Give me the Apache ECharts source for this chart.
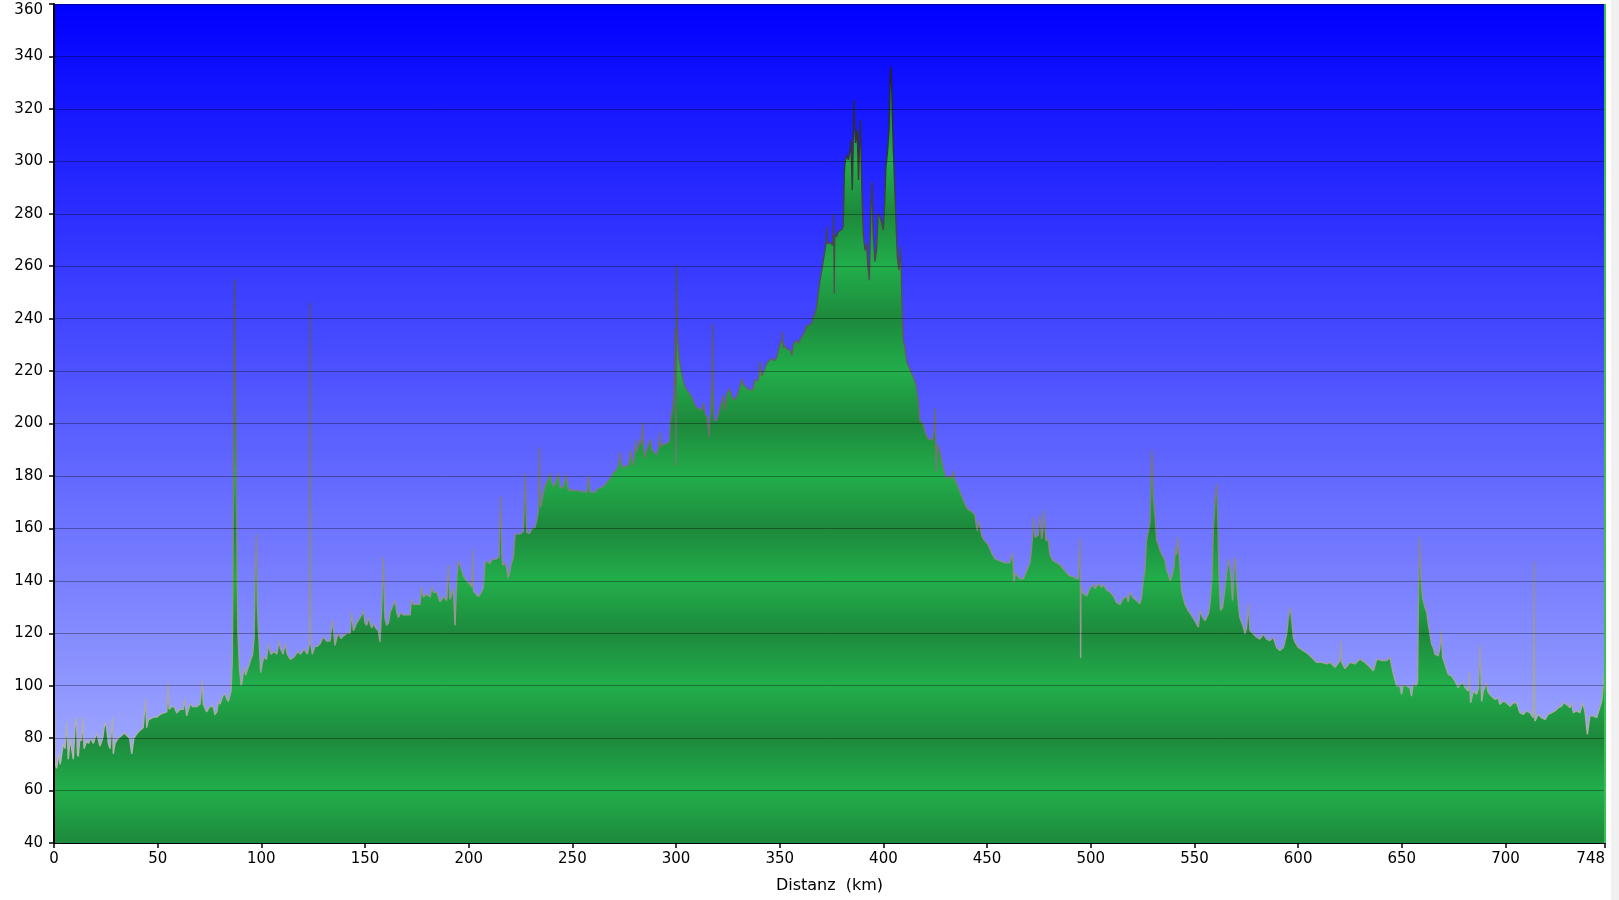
<!DOCTYPE html>
<html>
<head>
<meta charset="utf-8">
<script src="https://cdn.jsdelivr.net/npm/echarts@6/dist/echarts.min.js"></script>
<style>
html,body{margin:0;padding:0;background:#ffffff;}
#chart{width:1619px;height:900px;}
</style>
</head>
<body>
<div id="chart"></div>
<script>
// ---- Data: [distance km, elevation m] ----
const segA = [
  [0,72],[0.3,90],[0.6,70],[1.3,68.5],[2.2,74],[3,70],[3.7,70],[4.5,78],[5.3,76],[6.2,86],[6.9,72],
  [7.8,80],[8.5,76],[9.3,72],[10.1,84],[10.8,88],[11.3,74],[11.7,73],[12.5,80],[13.3,79],[14,88],
  [14.5,76],[15,76],[15.8,79],[16.6,78],[17.8,80],[19,78],[20.5,82],[22.2,77],[23.5,80],[24.5,86],
  [25.4,84],[26.2,78],[27,76],[28.2,88],[28.6,74],[29.4,78],[31,80],[32.6,81],[34,82],[35.1,81],
  [36.5,80],[37.5,74],[38.5,80],[39.1,80],[40.3,82],[41.5,83],[43,84],[44.2,95],[44.7,84],[45.5,87],
  [46.3,87.5],[48,88],[49.6,88],[51,89],[52.7,89.6],[53.5,90],[54.4,90],[55,101],[55.5,91],[56.8,92],
  [58,92],[59.2,89.6],[60.8,91],[62.4,91],[63,95],[64,88.5],[65.6,93],[67,92],[68.8,92],[70.4,93],
  [71.5,102],[72,93],[73.6,90],[75,92],[76.8,92],[77.6,89],[78.5,90],[79.3,94],[80.1,93],[81.3,96],
  [82.5,97],[83.3,95],[84.1,94],[85.4,98]
];
const segB = [
  [86.0,110],[86.4,160],[86.8,215],[87.1,255],[87.4,225],[87.7,200],[88.1,163],[88.7,120],[89.5,106],
  [90.3,100],[90.8,102],[91.6,107],[92.4,104],[93.2,106],[94.1,108],[94.9,110],[95.8,112],[96.5,118],
  [96.9,140],[97.3,150],[97.6,158],[98.1,131],[98.5,122],[98.9,117],[99.7,105],[100.5,109],[101.3,111],
  [102.5,110],[103.4,116],[104.5,112],[106.1,113],[107.5,112],[108.5,117],[109.3,114],[110.5,112],
  [111.5,116],[112.5,112],[114,110],[115.8,111],[117.5,113],[119,112],[120.6,114],[122.2,112],
  [123.2,116],[123.5,246],[123.8,116],[124.6,112],[125.8,115],[127,115],[128.3,116],[129.9,118.6]
];
const segC = [
  [131.5,117],[133.1,117],[134.3,125],[135.5,115.4],[136.3,118],[137.1,120],[138.4,118],[139.6,119],
  [141.2,120],[142.8,120],[143.5,128],[144.4,121],[146,124],[147.6,126],[148.4,127],[149.2,128.7],
  [150,124],[150.8,123],[151.6,126],[152.4,124],[153.2,122],[154,123.7],[155.2,122],[156.4,121],
  [157.2,116.7],[158,128.7],[158.8,149],[159.6,126],[160.4,123],[161.3,124],[162.1,128],[162.9,128.7],
  [164.5,132.5],[165.3,128],[166.1,126],[167.3,128],[168.5,127],[170.1,127],[171.7,127],[172.5,133],
  [173.3,131],[174.9,131],[176.5,131],[177.3,138],[178.1,133.8],[179.7,135],[181.4,133.8],[182.2,138],
  [183,135.7],[184.6,135.7],[186.2,132],[187.8,134],[189.4,132.5],[190.2,146],[191,133],[192.6,137],
  [193.4,123],[194.2,140],[195,147.7],[195.8,146],[196.6,144],[197.4,142],[199,140],[200.3,139],
  [201.5,137.6],[201.9,152],[202.3,136],[203.5,135],[204.7,134],[205.5,133.8],[206.3,136],[207.1,137.6],
  [207.9,147],[209.1,147.5],[210.3,146.5],[211.1,148],[211.9,148],[213.5,148.4],[214.6,149],[215.4,172],
  [216.0,150],[216.4,146],[217.3,147],[218.3,145],[219.1,141],[219.9,144],[220.7,147],[221.5,149],
  [222.4,157.8],[224,157.8],[225.2,158],[226.4,159],[227.2,181],[228,158.5],[229.2,158],[230.4,159.7],
  [231.2,160],[232,160.5],[232.8,163],[233.6,166.7],[234.1,190.8],[234.6,168],[235.2,170],[236,173.7],
  [236.8,176],[237.6,177.5],[238.4,178],[239.2,181],[240,178],[240.8,176],[241.6,177],[242.4,176.5],
  [243.3,181],[244.1,175.5],[245.7,176],[247,180.5],[248.1,174.3],[249.3,175],[250.5,174.3],[252,174.5],
  [253.7,174.3],[255.3,174],[256.9,173.7],[257.7,180],[258.5,174],[259.3,174.3],[260.9,173.7]
];
const segD = [
  [262,175],[265,176],[268.1,179],[269.8,181.4],[271,182],[272.2,184],[273,189],[273.5,185],[274.6,183],
  [276,184],[277,184],[278.1,190],[278.6,186],[279.4,184],[280.2,184],[280.7,194],[281,189],[281.8,191],
  [282.6,193.5],[283.3,192],[283.9,200.5],[284.4,190],[285,187],[285.8,190],[286.6,190],[287.8,194],
  [288.3,190],[289,189.6],[290.7,188],[291.5,191],[292.3,196.6],[292.7,191],[293.1,192],[294.3,192],
  [295.5,192.5],[296.8,193],[297.4,201.5],[298.4,206.2],[299,211],[299.7,236],[300.0,184],[300.1,260.4],
  [300.4,245],[300.8,233],[301.6,224],[302.7,219],[303.5,216],[304.3,214],[305.1,213],[305.9,213.4],
  [306.7,211.3],[307.5,210],[308.3,209],[309.1,207],[309.9,206.2],[311.2,205.5],[312.4,205],[313.2,208],
  [314,203.7],[315,202.5],[315.6,202.4],[315.9,195],[316.3,202],[316.7,203.7],[317.3,215],[317.5,238],
  [317.8,215],[318.3,201.2],[319.6,201.2],[320.4,203.5],[321.2,206.2],[322,208],[322.8,210.7],[323.6,205],
  [324.4,211.3],[325.7,213.2],[326.8,210.7],[327.6,209],[328.4,208.8],[329.2,210],[330,210.7],[330.8,214],
  [331.6,217],[332.4,215],[333.3,214.2],[334.1,213.5],[334.9,213],[336,212.5],[337,212.9],[338.1,216.7],
  [338.9,217],[339.7,216.4],[340.5,223.5],[341.3,218],[342.1,218.7],[342.9,221],[343.7,222.8],[344.9,224],
  [346.1,224.7],[347.7,224],[348.5,225],[349.3,225.3],[350.1,230.4]
];
const segE = [
  [351,231.7],[351.3,235],[351.7,229],[352.5,229.8],[353.3,228.5],[354.2,227.9],[355,228],[355.8,226],
  [356.6,230.4],[357.4,230],[358.2,231.7],[359,230.5],[359.8,232],[360.6,233],[361.4,234],[362.2,235.5],
  [363,237.4],[364,237.5],[364.6,238],[365.4,238.2],[366.2,240.6],[367,242],[367.8,244.5],[368.6,249.6],
  [369.4,254.5],[370.2,258],[371,262],[371.6,265],[372.3,268.7],[372.6,275],[372.9,268.7],[373.4,268.7],
  [374.2,269],[375,268.7],[375.6,268],[376.1,280],[376.3,249.6],[376.5,272],[377.4,271.2],[378.2,273.1],
  [379,273.5],[379.8,273.8],[380.6,275],[381.2,296.7],[381.7,300.5],[382.3,302.3],[383.1,300.5],
  [383.9,304.3],[384.3,308],[385,289],[385.5,310],[385.8,323.4],[386.2,312],[386.6,307],[387.4,312],
  [388,292.9],[388.8,315.8],[389.2,305],[389.6,289.5],[390.3,272.5],[391.1,266],[391.9,268.5],[392.4,261],
  [393.2,254.6],[393.8,278.9],[394.5,292.2],[395.1,272.5],[395.9,261.7],[396.7,266],[397.4,280.1],
  [398.3,278.9],[399.3,276.3],[399.9,273.8],[400.6,284],[401.2,298],[401.9,303],[402.7,312],[403.3,332.4],
  [403.6,336.2],[404.1,326],[404.8,304.3],[405.4,291.6],[406.1,276.3],[406.7,263.6],[407.5,258.5],
  [408.1,267.4],[408.6,258.5],[409.1,240.6],[409.6,231.7],[410.4,229]
];
const segF = [
  [411.2,223.8],[412,222],[412.8,220.8],[413.6,219],[414.4,217.8],[415.7,214.8],[416.8,208.8],[417.6,201.2],
  [418.4,200.5],[419.2,199.7],[420,197],[420.9,195.2],[421.7,194],[422.5,193.7],[423.7,193.7],[424.5,197],
  [424.9,205.7],[425.2,195],[425.4,181.6],[426,192],[426.6,191],[427.3,189.1],[428.1,186],[428.9,183.1],
  [430.2,179.3],[431,180],[432.1,180],[433,179],[433.7,182],[434.5,178.5],[435.3,177.5],[436.1,175.6],
  [437.7,172.5],[439,170],[440.1,168],[441.3,167],[442.6,166.5],[444.2,165],[444.8,161],[445.3,159],
  [446,163],[446.6,163.5],[447.4,157.4],[448.2,156],[449,155.2],[450.6,153.7],[452.2,150.6],[453.8,148.4],
  [455,148],[456.2,147.6],[457.4,147.2],[458.6,146.9],[460,146.9],[461,146.9],[462.3,150.6],[463,139.4],
  [463.6,143],[464.3,142.3],[465.9,140.8],[467.5,140.8],[469.1,143.8],[470.7,146.9],[471.4,152],[472,157.4],
  [472.4,164],[473.1,156.6],[474.7,157.4],[475.5,165],[476.3,156],[477.1,160],[477.4,167.2],[478.4,155.2],
  [479.5,156],[480.3,150],[481.2,148.5],[482,147.6],[483.6,146.9],[485.2,146.1],[486.4,145],[487.6,143.8],
  [489.2,142.3],[490.4,141.8],[491.6,141.5],[492.8,141],[494,140.8],[494.6,140.5],[494.8,155.9],[495,140],
  [495.1,110.6],[495.3,138],[496.1,135.5],[497,134.8],[498,134.2],[499.6,137.2],[501.2,138.6],[502.1,137],
  [502.9,138],[503.7,139],[504.5,139.4],[505.3,137.5],[506.1,138.6],[507.7,136.4],[509.3,135.7],
  [510.9,134.2],[512.5,131.8],[514.1,131],[515.7,133.4],[517.3,134.1],[518.1,132],[518.9,135.7],[520.5,133.5]
];
const segG = [
  [521.3,134],[522.1,132.5],[522.9,133],[523.7,131.2],[524.5,133.8],[525.3,140],[526.1,144],[526.9,155.4],
  [527.7,155.4],[528.5,161.8],[529,178.3],[529.5,189.8],[530.2,172],[531,164.6],[531.8,155.4],[532.6,154],
  [533.4,151.6],[534.2,151.6],[535,149],[535.8,147.8],[536.6,144],[537.4,142.7],[538.2,140.1],[539,141.4],
  [540.1,145.2],[540.9,152.9],[541.4,150],[541.9,156.7],[542.7,149],[543.8,136.3],[544.6,133.7],
  [545.4,131.2],[547,128.7],[548.6,126.8],[550.2,124.8],[551.9,122.3],[552.7,128.7],[553.9,126.2],
  [555.1,124.8],[556.7,127.4],[557.5,131.2],[558.5,141.4],[559.1,159.2],[559.9,170.7],[560.7,177],
  [561.2,166],[561.8,142.7],[562.6,128.7],[563.6,130],[564.4,135],[565.5,142.7],[566.5,148.4],
  [567.5,142.7],[568.4,132.5],[569.2,146.5],[569.7,149],[570.3,140],[571.2,131.2],[571.9,126.1],
  [573.6,122.3],[574.4,119.7],[575.2,122.3],[576,131.2],[576.8,121],[578.4,119.7],[580,118.5],
  [581.6,117.8],[583.2,119.7],[584.8,117.8],[586.4,117.2],[588,118.5],[589.6,114.6],[591.2,113.4],
  [592.9,114.6],[594.5,119.7],[595.3,126.1],[596.1,130],[596.9,125],[597.7,118.5],[598.5,116.6],
  [600.1,114.6],[602.5,113.4],[604.9,112.1],[607.3,110.2],[608.9,108.9],[611.3,108.9],[613.8,108.3],
  [615.4,108.9],[617.8,107],[620.2,109.6],[620.5,117],[621,109],[622.6,106.5],[625,108.9],[627.4,108.3],
  [629.8,110.2],[632.2,108.9],[634.7,107],[636.3,105.7],[637.9,110.2],[640.3,109.6],[642.7,109.6],
  [644.3,110.8],[645.9,104.5],[647.5,100],[648.3,99.5]
];
const segH = [
  [649.1,99.9],[649.9,96.7],[650.7,100.5],[652.3,99.9],[653.9,99.2],[654.7,96],[655.5,101],[656.3,100.5],
  [657.1,99.9],[657.6,101.8],[658.1,137.5],[658.6,156.6],[659.2,141.3],[660,133.6],[661.2,129.8],[662,128],
  [662.8,123.4],[663.6,119.6],[664.4,115.8],[665.2,114.5],[666,112],[666.8,112],[667.6,111.4],[668.4,114.5],
  [669,120.9],[669.7,110.7],[670.8,108.2],[671.6,106.3],[672.4,104.3],[674,103.7],[674.8,103.1],
  [675.6,101.8],[677.2,99.2],[678,100.5],[679.6,101.1],[680.5,99.2],[682.1,98],[682.5,105],[683.2,93.5],
  [684.5,98],[686.1,96.7],[687,99.2],[687.7,115.8],[688.5,94],[689.3,98],[690.1,98.6],[690.9,101],
  [691.7,97.4],[693.3,96],[694.9,94.8],[696.5,95.4],[697.3,92.9],[698.9,94.2],[700.5,93.5],[702.2,92.2],
  [703.8,93.5],[705.4,93.5],[707,89.7],[708.6,89.1],[710.2,90.4],[711.8,89.7],[713.4,87.8],[713.7,147.6],
  [714.2,86.5],[715.8,89.1],[717.4,87.8],[719,87.1],[720.6,89.1],[722.3,89.7],[723.9,90.4],[725.5,91.6],
  [727.1,92.2],[727.9,93.5],[729.5,92.9],[731.1,91.6],[731.9,93.5],[732.7,89.7],[734.3,90.4],[735.9,89.7],
  [737.2,93.5],[738.3,90.4],[739.5,81.4],[740.7,88.5],[742.3,88.5],[744,87.8],[745.2,91],[746.4,94.1],
  [747.2,100.5],[747.8,105.6],[748,106]
];

// ---- Axis settings ----
const xMin = 0, xMax = 748, xStep = 50;
const yMin = 40, yMax = 360, yStep = 20;
const xAxisTitle = 'Distanz  (km)';

const profile = [].concat(segA, segB, segC, segD, segE, segF, segG, segH);

const FONT = 'DejaVu Sans';
const chart = echarts.init(document.getElementById('chart'), null, {renderer: 'canvas'});

const option = {
  animation: false,
  backgroundColor: '#ffffff',
  grid: {
    left: 54, right: 14, top: 4, bottom: 57,
    show: true,
    borderWidth: 0,
    backgroundColor: {
      type: 'linear', x: 0, y: 0, x2: 0, y2: 1,
      colorStops: [
        {offset: 0, color: '#0000ff'},
        {offset: 1, color: '#b0baff'}
      ]
    }
  },
  xAxis: {
    type: 'value', min: xMin, max: xMax, interval: xStep,
    name: xAxisTitle, nameLocation: 'middle', nameGap: 35,
    nameTextStyle: {fontFamily: FONT, fontSize: 16, color: '#000'},
    axisLine: {show: true, onZero: false, lineStyle: {color: '#000', width: 2}},
    axisTick: {show: true, length: 5, lineStyle: {color: '#000', width: 1.5}},
    axisLabel: {fontFamily: FONT, fontSize: 15, color: '#000', margin: 9, showMaxLabel: true, alignMaxLabel: 'right'},
    splitLine: {show: false}
  },
  yAxis: {
    type: 'value', min: yMin, max: yMax, interval: yStep,
    z: 5,
    axisLine: {show: true, lineStyle: {color: '#000', width: 2}},
    axisTick: {show: true, length: 5, lineStyle: {color: '#000', width: 1.5}},
    axisLabel: {
      fontFamily: FONT, fontSize: 15, color: '#000', margin: 11,
      formatter: function (v) { return v === yMax ? '{top|' + v + '}' : String(v); },
      rich: {top: {fontFamily: FONT, fontSize: 15, color: '#000', padding: [12, 0, 0, 0]}}
    },
    splitLine: {show: true, lineStyle: {color: 'rgba(0,0,0,0.33)', width: 1}}
  },
  series: [{
    type: 'line',
    data: profile,
    showSymbol: false,
    symbol: 'none',
    sampling: null,
    smooth: false,
    z: 2,
    lineStyle: {width: 1.4, color: '#777'},
    areaStyle: {color: '#22ae4b', opacity: 1},
    markLine: {
      silent: true, symbol: 'none', animation: false,
      label: {show: false},
      lineStyle: {color: '#35c24f', width: 2, type: 'solid'},
      data: [{xAxis: xMax}]
    }
  }],
  graphic: [{
    type: 'rect', right: 0, top: 0, z: 100,
    shape: {width: 8, height: 900},
    style: {fill: '#f0f0f0'}
  }]
};
chart.setOption(option);

// Build banded green fill and shaded outline in axis pixel space
const yTopPx = chart.convertToPixel({yAxisIndex: 0}, yMax);
const yBotPx = chart.convertToPixel({yAxisIndex: 0}, yMin);
const darkGreen = '#1d893c', lightGreen = '#22ae4b';
const bandStops = [];
for (let v = yMax; v >= yMin; v -= yStep) {
  bandStops.push({
    offset: (yMax - v) / (yMax - yMin),
    color: ((v - yMin) % (2 * yStep) === 0) ? darkGreen : lightGreen
  });
}
chart.setOption({
  series: [{
    areaStyle: {
      color: {type: 'linear', x: 0, y: yTopPx, x2: 0, y2: yBotPx, global: true, colorStops: bandStops}
    },
    lineStyle: {
      color: {type: 'linear', x: 0, y: yTopPx, x2: 0, y2: yBotPx, global: true,
        colorStops: [{offset: 0, color: '#161616'}, {offset: 1, color: '#c6c6c6'}]}
    }
  }]
});
</script>
</body>
</html>
